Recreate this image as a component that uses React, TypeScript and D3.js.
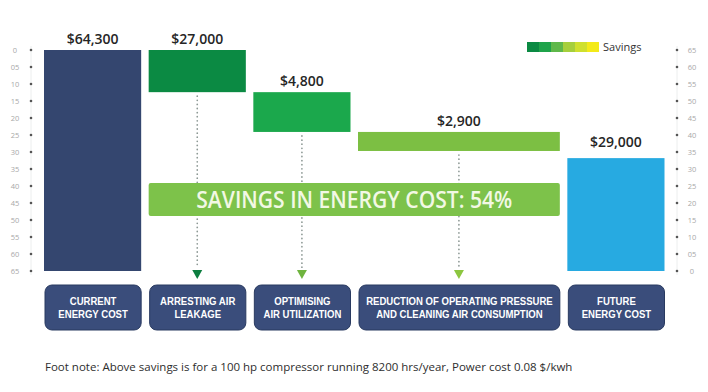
import React from "react";
import * as d3 from "d3";

// chart content
const categories = [
  ["CURRENT", "ENERGY COST"],
  ["ARRESTING AIR", "LEAKAGE"],
  ["OPTIMISING", "AIR UTILIZATION"],
  ["REDUCTION OF OPERATING PRESSURE", "AND CLEANING AIR CONSUMPTION"],
  ["FUTURE", "ENERGY COST"],
];
const valueLabels = ["$64,300", "$27,000", "$4,800", "$2,900", "$29,000"];
// bar extents in axis units (0 at the top of the left axis)
const barFrom = [0, 0, 12.4, 24.1, 31.8];
const barTo = [65, 12.4, 24.1, 29.7, 65];
const barSlots = [1, 1, 1, 2, 1];
const hasArrow = [false, true, true, true, false];
const tickValues = [0, 5, 10, 15, 20, 25, 30, 35, 40, 45, 50, 55, 60, 65];
const tickLabels = ["0", "05", "10", "15", "20", "25", "30", "35", "40", "45", "50", "55", "60", "65"];
const legendLabel = "Savings";
const bannerText = "SAVINGS IN ENERGY COST: 54%";
const bannerFrom = 39.1;
const bannerTo = 48.8;
const footnote =
  "Foot note: Above savings is for a 100 hp compressor running 8200 hrs/year, Power cost 0.08 $/kwh";

// styles
const barColors = ["#34466f", "#0b8a43", "#1ba84c", "#7cbf43", "#27aae1"];
const arrowColors = ["", "#0c7d3f", "#6fb43f", "#8cc63f", ""];
const legendColors = ["#0b8a43", "#1fa34a", "#5fb84a", "#a6cf3c", "#cfe02e", "#f3ea19"];
const boxFill = "#3a4d7b";
const boxStroke = "#293a60";
const sans = "'Open Sans', 'Noto Sans', sans-serif";
const boxFont = "'Liberation Sans', Arial, sans-serif";

const W = 708;
const H = 392;

// squeeze text horizontally to mimic the condensed face of the original
const ctx = document.createElement("canvas").getContext("2d");
function squeezed(text: string, font: string, factor: number) {
  if (!ctx) return undefined;
  ctx.font = font;
  return ctx.measureText(text).width * factor;
}

export default function App() {
  const y = d3.scaleLinear().domain([0, 65]).range([50, 271]);
  const yRight = d3.scaleLinear().domain([0, 65]).range([271, 50]);
  const x = d3.scaleLinear().domain([0, 6]).range([44, 672]);
  const gap = 7.5;

  const starts: number[] = [];
  barSlots.reduce((acc, s) => {
    starts.push(acc);
    return acc + s;
  }, 0);

  const bx0 = (i: number) => x(starts[i]);
  const bx1 = (i: number) => x(starts[i] + barSlots[i]) - gap;
  const cx = (i: number) => (bx0(i) + bx1(i)) / 2;

  const arrowTop = 270;
  const boxTop = 285;
  const boxBottom = 330;

  return (
    <svg
      width={W}
      height={H}
      style={{ position: "absolute", left: 0, top: 0, background: "#fff" }}
    >
      {/* left axis */}
      <g>
        <line x1={31} x2={31} y1={y(0) - 4} y2={y(65) + 4} stroke="#eceeee" />
        {tickValues.map((t, i) => (
          <g key={"l" + t}>
            <circle cx={31} cy={y(t)} r={1.3} fill="#555" />
            <text
              x={15}
              y={y(t)}
              dy="0.35em"
              textAnchor="middle"
              fontFamily={sans}
              fontSize={7.5}
              fill="#a8a8a8"
            >
              {tickLabels[i]}
            </text>
          </g>
        ))}
      </g>
      {/* right axis */}
      <g>
        <line x1={677} x2={677} y1={yRight(65) - 4} y2={yRight(0) + 4} stroke="#eceeee" />
        {tickValues.map((t, i) => (
          <g key={"r" + t}>
            <circle cx={677} cy={yRight(t)} r={1.3} fill="#555" />
            <text
              x={692}
              y={yRight(t)}
              dy="0.35em"
              textAnchor="middle"
              fontFamily={sans}
              fontSize={7.5}
              fill="#a8a8a8"
            >
              {tickLabels[i]}
            </text>
          </g>
        ))}
      </g>

      {/* dotted connectors + arrows */}
      {categories.map((_, i) =>
        hasArrow[i] ? (
          <g key={"a" + i}>
            <line
              x1={cx(i)}
              x2={cx(i)}
              y1={y(barTo[i]) + 4}
              y2={arrowTop - 2}
              stroke="#8d9995"
              strokeWidth={1.7}
              strokeDasharray="0.1 4"
              strokeLinecap="round"
            />
            <path
              d={`M${cx(i) - 5},${arrowTop} L${cx(i) + 5},${arrowTop} L${cx(i)},${arrowTop + 9} Z`}
              fill={arrowColors[i]}
            />
          </g>
        ) : null
      )}

      {/* bars */}
      {categories.map((_, i) => (
        <g key={"b" + i}>
          <rect
            x={bx0(i)}
            y={y(barFrom[i])}
            width={bx1(i) - bx0(i)}
            height={y(barTo[i]) - y(barFrom[i])}
            fill={barColors[i]}
          />
          <text
            x={cx(i)}
            y={y(barFrom[i]) - (i === 4 ? 11 : 6)}
            textAnchor="middle"
            fontFamily={sans}
            fontWeight={600}
            fontSize={14}
            fill="#262626"
          >
            {valueLabels[i]}
          </text>
        </g>
      ))}

      {/* savings banner */}
      <rect
        x={bx0(1)}
        y={y(bannerFrom)}
        width={bx1(3) - bx0(1)}
        height={y(bannerTo) - y(bannerFrom)}
        rx={2}
        fill="#7dc24a"
      />
      <text
        x={(bx0(1) + bx1(3)) / 2}
        y={(y(bannerFrom) + y(bannerTo)) / 2}
        dy="0.36em"
        textAnchor="middle"
        fontFamily={sans}
        fontWeight={600}
        fontSize={24}
        fill="#f2f8e4"
        textLength={316}
        lengthAdjust="spacingAndGlyphs"
      >
        {bannerText}
      </text>

      {/* category boxes */}
      {categories.map((lines, i) => (
        <g key={"c" + i}>
          <rect
            x={bx0(i) + 1}
            y={boxTop}
            width={bx1(i) - bx0(i) - 1}
            height={boxBottom - boxTop}
            rx={7}
            fill={boxFill}
            stroke={boxStroke}
            strokeWidth={1}
          />
          {lines.map((ln, j) => (
            <text
              key={j}
              x={cx(i) + 0.5}
              y={boxTop + 20 + j * 13}
              textAnchor="middle"
              fontFamily={boxFont}
              fontWeight={700}
              fontSize={11.5}
              fill="#ffffff"
              textLength={squeezed(ln, "bold 11.5px 'Liberation Sans'", 0.83)}
              lengthAdjust="spacingAndGlyphs"
            >
              {ln}
            </text>
          ))}
        </g>
      ))}

      {/* legend */}
      {legendColors.map((c, i) => (
        <rect key={"lg" + i} x={527 + i * 12} y={42} width={12} height={10} fill={c} />
      ))}
      <text x={603} y={51} fontFamily={sans} fontSize={11} fill="#333">
        {legendLabel}
      </text>

      {/* foot note */}
      <text x={45} y={371} fontFamily={sans} fontSize={11.5} fill="#2e2e2e">
        {footnote}
      </text>
    </svg>
  );
}
